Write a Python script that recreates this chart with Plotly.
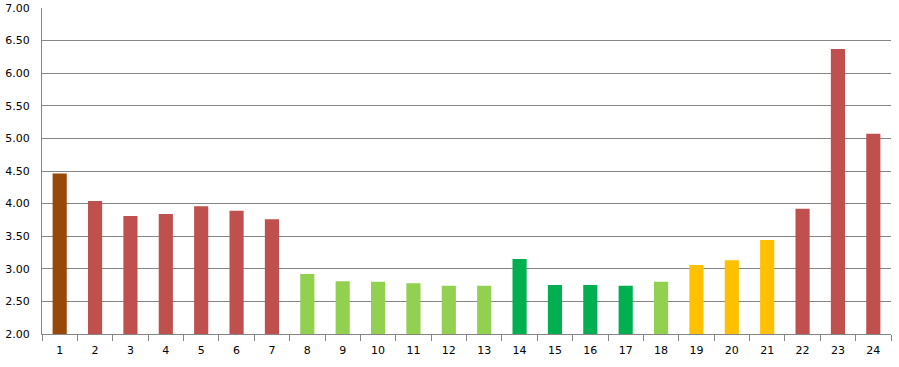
import plotly.graph_objects as go

categories = [str(i) for i in range(1, 25)]
values = [4.46, 4.04, 3.81, 3.84, 3.96, 3.89, 3.76,
          2.92, 2.81, 2.80, 2.78, 2.74, 2.74, 3.15, 2.75, 2.75, 2.74, 2.80,
          3.06, 3.13, 3.44, 3.92, 6.37, 5.07]
bar_colors = ["#984807"] + ["#C0504D"] * 6 + ["#92D050"] * 6 + ["#00B050"] * 4 + \
             ["#92D050"] + ["#FFC000"] * 3 + ["#C0504D"] * 3

fig = go.Figure(go.Bar(x=categories, y=values, marker=dict(color=bar_colors, line=dict(width=0)),
                       hoverinfo="x+y"))

fig.update_layout(
    width=899, height=367,
    margin=dict(l=42, r=8, t=8, b=33, autoexpand=False),
    plot_bgcolor="white", paper_bgcolor="white",
    bargap=0.6, showlegend=False,
    font=dict(family="DejaVu Sans", size=11, color="#000000"),
)
fig.update_xaxes(
    type="category", showline=True, linecolor="#868686", linewidth=1,
    ticks="outside", tickson="boundaries", ticklen=6, tickcolor="#868686",
    showgrid=False, tickfont=dict(size=11), ticklabelstandoff=6, automargin=False,
)
fig.update_yaxes(
    range=[2, 7], dtick=0.5, tickformat=".2f", showgrid=True, gridcolor="#868686", gridwidth=1,
    showline=True, linecolor="#868686", linewidth=1, zeroline=False,
    ticks="", tickfont=dict(size=11), ticklabelstandoff=9, automargin=False,
)

fig.write_html("out.html")
